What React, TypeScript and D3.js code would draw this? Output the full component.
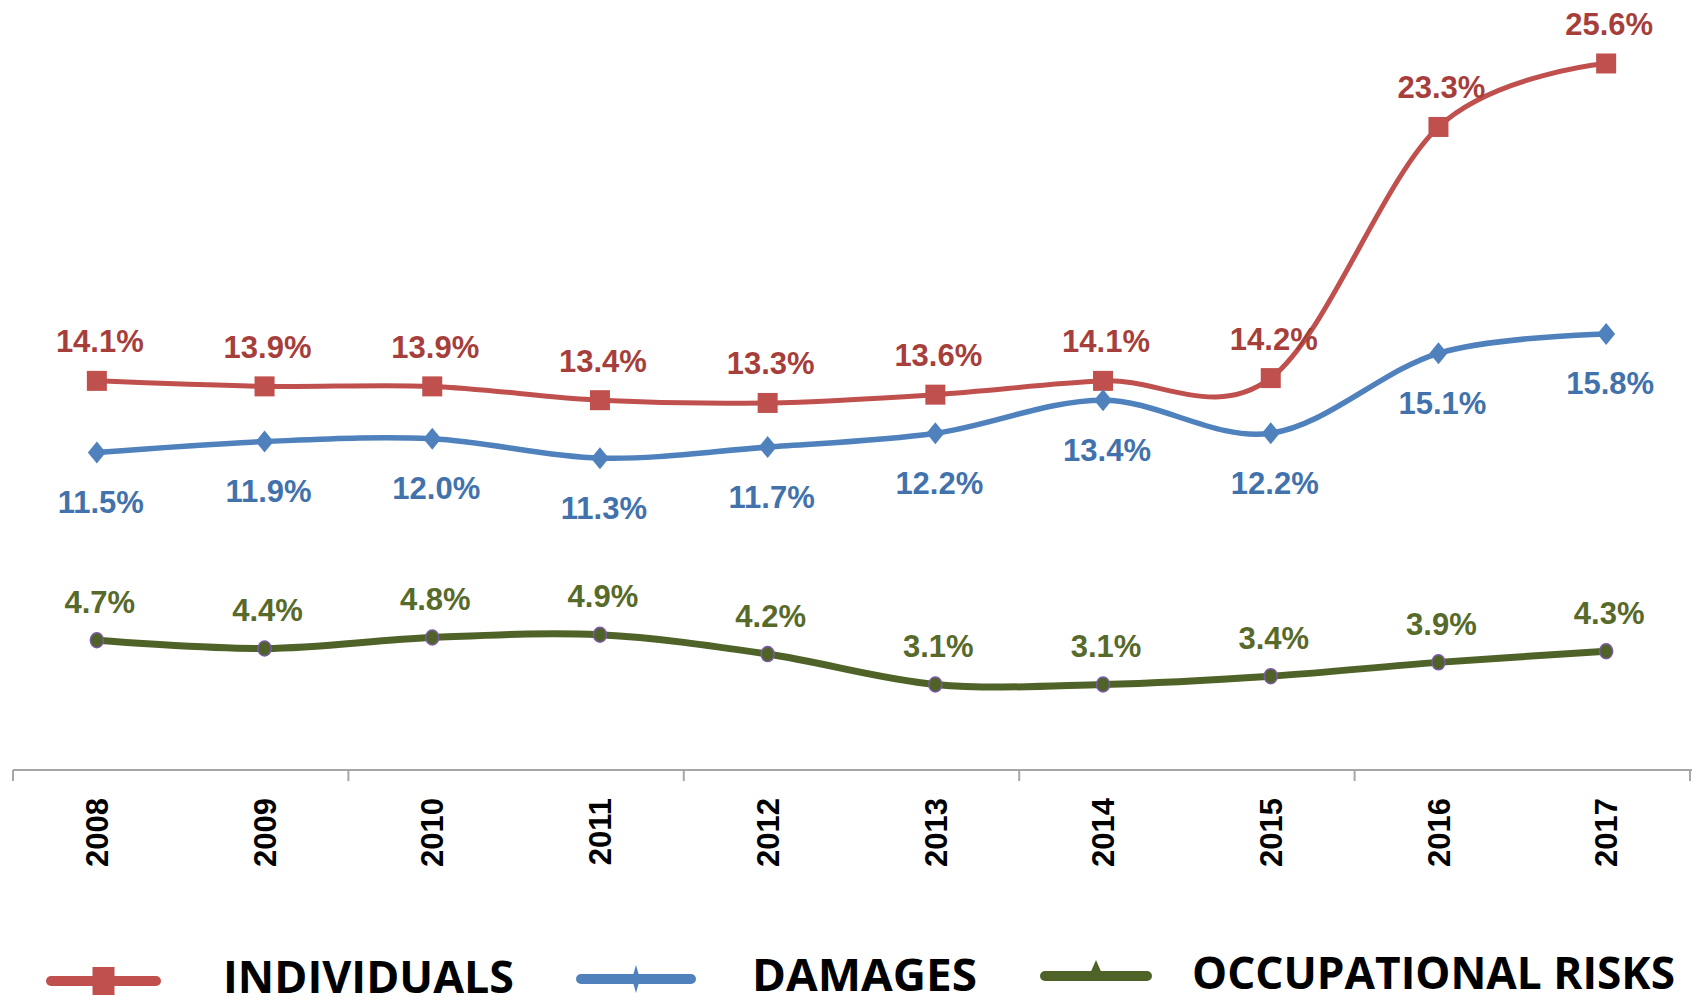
import React from "react";
import * as d3 from "d3";

const years = ["2008", "2009", "2010", "2011", "2012", "2013", "2014", "2015", "2016", "2017"];
const individuals = [14.1, 13.9, 13.9, 13.4, 13.3, 13.6, 14.1, 14.2, 23.3, 25.6];
const damages = [11.5, 11.9, 12.0, 11.3, 11.7, 12.2, 13.4, 12.2, 15.1, 15.8];
const occupational = [4.7, 4.4, 4.8, 4.9, 4.2, 3.1, 3.1, 3.4, 3.9, 4.3];
const seriesNames = ["INDIVIDUALS", "DAMAGES", "OCCUPATIONAL RISKS"];

const W = 1692;
const H = 1006;

export default function App() {
  const x = d3.scaleBand<string>().domain(years).range([13, 1690]);
  const bw = x.bandwidth();
  const cx = (yr: string) => (x(yr) as number) + bw / 2;
  const y = d3.scaleLinear().domain([0, 27.9]).range([770, 0]);

  const line = d3
    .line<number>()
    .x((_, i) => cx(years[i]))
    .y((v) => y(v))
    .curve(d3.curveCardinal.tension(0));

  const red = "#c0504d";
  const blue = "#4f81bd";
  const green = "#4f6228";
  const redLbl = "#a63f3c";
  const blueLbl = "#4272ac";
  const greenLbl = "#586a2a";

  const boundaries = d3.range(0, years.length + 1, 2).map((i) => 13 + i * bw);

  const labelFont = "'Liberation Sans', Arial, sans-serif";

  const legend = [
    { name: seriesNames[0], color: red, lx1: 51, lx2: 156, ly: 981, tx: 223, tw: 291, tb: 993, shape: "square" },
    { name: seriesNames[1], color: blue, lx1: 581, lx2: 691, ly: 979, tx: 752, tw: 225, tb: 991, shape: "diamond" },
    { name: seriesNames[2], color: green, lx1: 1045, lx2: 1147, ly: 976, tx: 1192, tw: 483, tb: 989, shape: "triangle" },
  ];

  return (
    <svg
      width={W}
      height={H}
      viewBox={`0 0 ${W} ${H}`}
      style={{ position: "absolute", left: 0, top: 0, background: "#fff" }}
    >
      <rect x={0} y={0} width={W} height={H} fill="#fff" />
      {/* axis */}
      <line x1={13} x2={W} y1={770} y2={770} stroke="#a6a6a6" strokeWidth={2} />
      {boundaries.map((bx, i) => (
        <line key={i} x1={bx} x2={bx} y1={770} y2={781} stroke="#a6a6a6" strokeWidth={2} />
      ))}
      {years.map((yr) => (
        <text
          key={yr}
          transform={`translate(${cx(yr)},798) rotate(-90)`}
          textAnchor="end"
          dy="0.36em"
          fontFamily={labelFont}
          fontWeight="bold"
          fontSize={31}
          fill="#000"
        >
          {yr}
        </text>
      ))}

      {/* lines */}
      <path d={line(individuals) || ""} fill="none" stroke={red} strokeWidth={5} />
      <path d={line(damages) || ""} fill="none" stroke={blue} strokeWidth={5.5} />
      <path d={line(occupational) || ""} fill="none" stroke={green} strokeWidth={7} />

      {/* markers */}
      {individuals.map((v, i) => (
        <rect key={"r" + i} x={cx(years[i]) - 10} y={y(v) - 10} width={20} height={20} fill={red} />
      ))}
      {damages.map((v, i) => {
        const px = cx(years[i]);
        const py = y(v);
        return (
          <path
            key={"b" + i}
            d={`M${px},${py - 11} L${px + 9},${py} L${px},${py + 11} L${px - 9},${py} Z`}
            fill={blue}
          />
        );
      })}
      {occupational.map((v, i) => (
        <ellipse
          key={"g" + i}
          cx={cx(years[i])}
          cy={y(v)}
          rx={6.5}
          ry={7.5}
          fill={green}
          stroke="#7b5aa6"
          strokeWidth={1.5}
        />
      ))}

      {/* labels */}
      {individuals.map((v, i) => (
        <text
          key={"rl" + i}
          x={cx(years[i]) + 3}
          y={y(v) - 39}
          textAnchor="middle"
          dominantBaseline="central"
          fontFamily={labelFont}
          fontWeight="bold"
          fontSize={31}
          fill={redLbl}
        >
          {v.toFixed(1)}%
        </text>
      ))}
      {damages.map((v, i) => (
        <text
          key={"bl" + i}
          x={cx(years[i]) + 4}
          y={y(v) + 50}
          textAnchor="middle"
          dominantBaseline="central"
          fontFamily={labelFont}
          fontWeight="bold"
          fontSize={31}
          fill={blueLbl}
        >
          {v.toFixed(1)}%
        </text>
      ))}
      {occupational.map((v, i) => (
        <text
          key={"gl" + i}
          x={cx(years[i]) + 3}
          y={y(v) - 38}
          textAnchor="middle"
          dominantBaseline="central"
          fontFamily={labelFont}
          fontWeight="bold"
          fontSize={31}
          fill={greenLbl}
        >
          {v.toFixed(1)}%
        </text>
      ))}

      {/* legend */}
      {legend.map((l) => {
        const mx = (l.lx1 + l.lx2) / 2;
        let marker;
        if (l.shape === "square") {
          marker = <rect x={mx - 11} y={l.ly - 14} width={22} height={28} fill={l.color} />;
        } else if (l.shape === "diamond") {
          marker = (
            <path d={`M${mx},${l.ly - 14} L${mx + 4},${l.ly} L${mx},${l.ly + 14} L${mx - 4},${l.ly} Z`} fill={l.color} />
          );
        } else {
          marker = (
            <path d={`M${mx},${l.ly - 16} L${mx + 7},${l.ly} L${mx - 7},${l.ly} Z`} fill={l.color} />
          );
        }
        return (
          <g key={l.name}>
            <line x1={l.lx1} x2={l.lx2} y1={l.ly} y2={l.ly} stroke={l.color} strokeWidth={10} strokeLinecap="round" />
            {marker}
            <text
              x={l.tx}
              y={l.tb}
              fontFamily="'Open Sans', sans-serif"
              fontWeight="bold"
              fontSize={44}
              textLength={l.tw}
              lengthAdjust="spacingAndGlyphs"
              fill="#000"
            >
              {l.name}
            </text>
          </g>
        );
      })}
    </svg>
  );
}
